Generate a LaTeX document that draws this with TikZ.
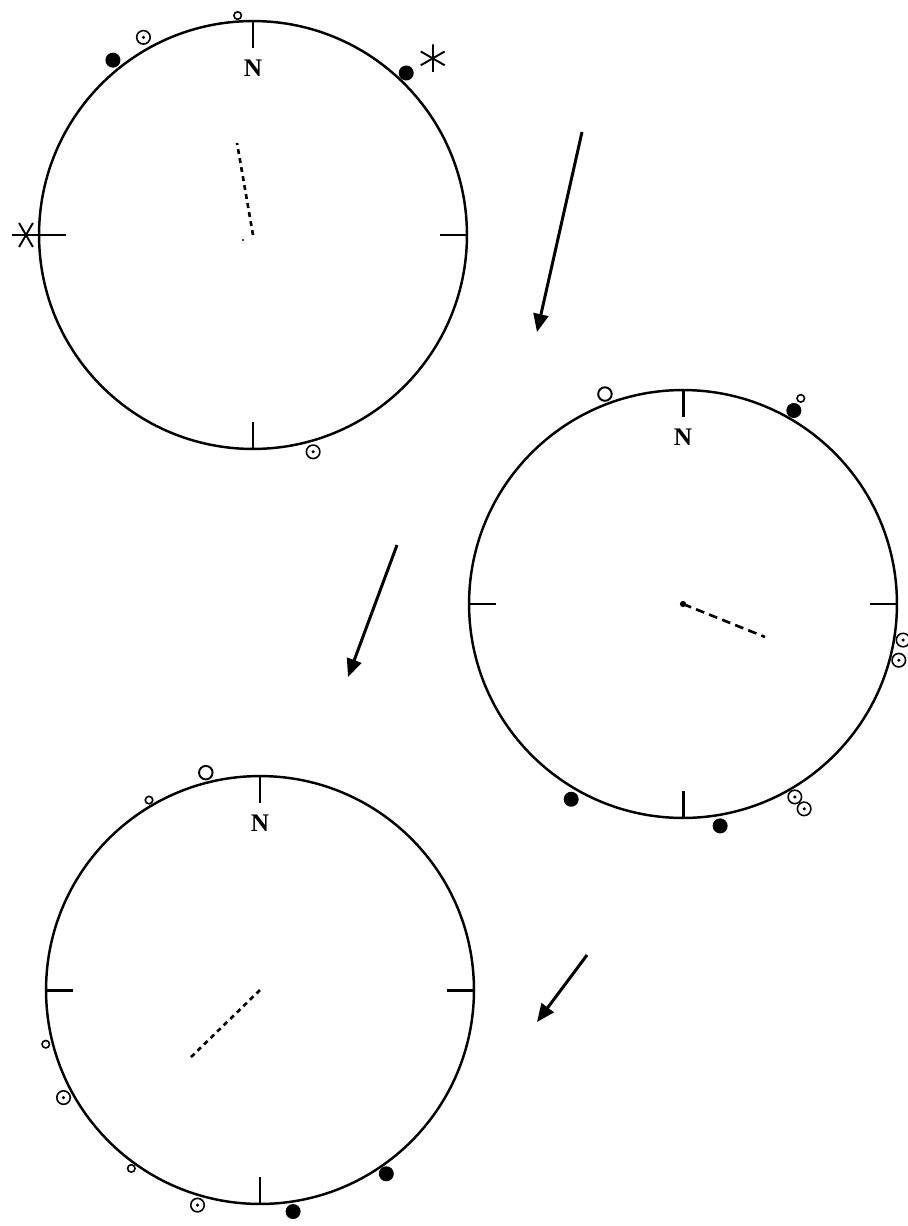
\documentclass[tikz,border=0pt]{standalone}
\usepackage{fontspec}
\setmainfont{Liberation Serif}
\usetikzlibrary{arrows.meta, calc}
\tikzset{
  net/.style={circle,draw,line width=1.4pt,minimum size=8.56cm,inner sep=0pt},
  tickmark/.style={line width=1.7pt},
  northlabel/.style={font=\bfseries\Large,inner sep=0pt},
  poleline/.style={line width=1.5pt,dash pattern=on 2.8pt off 2.4pt},
  fullmark/.style={circle,fill=black,minimum size=0.3cm,inner sep=0pt},
  openmark/.style={circle,draw,line width=1.1pt,minimum size=0.27cm,inner sep=0pt},
  tinymark/.style={circle,draw,line width=0.9pt,minimum size=0.15cm,inner sep=0pt},
  dotmark/.style={circle,draw,line width=0.9pt,minimum size=0.27cm,inner sep=0pt,
    path picture={\fill (path picture bounding box.center) circle (1pt);}},
  astmark/.style={circle,minimum size=0.56cm,inner sep=0pt,
    path picture={\foreach \t in {#1,#1+60,#1+120}
      \draw[line width=1.1pt] ($(path picture bounding box.center)+(\t:0.28cm)$)
        -- ($(path picture bounding box.center)+(\t+180:0.28cm)$);}},
  bigarrow/.style={line width=1.7pt,-{Triangle[length=0.36cm,width=0.3cm]}},
}

\begin{document}
\begin{tikzpicture}[x=0.02cm,y=0.02cm]
  \useasboundingbox (0,0) rectangle (907,-1226);
  % the three nets
  \node[net] (c1) at (253,-235) {};
  \node[net] (c2) at (683,-604) {};
  \node[net] (c3) at (260,-990) {};
  \foreach \c in {c1,c2,c3} {
    \draw[tickmark] (\c.north) -- ++(0,-28);
    \draw[tickmark] (\c.south) -- ++(0,28);
    \draw[tickmark] (\c.west) -- ++(28,0);
    \draw[tickmark] (\c.east) -- ++(-28,0);
    \node[northlabel] (\c n) at ($(\c.north)+(0,-48)$) {N};
  }
  % net 1
  \node[tinymark] (c1t1) at ($(c1)+(94:220)$) {};
  \node[dotmark] (c1d1) at ($(c1)+(119:226)$) {};
  \node[dotmark] (c1d2) at ($(c1)+(-74.5:225)$) {};
  \node[fullmark] (c1f1) at ($(c1)+(128.7:224)$) {};
  \node[fullmark] (c1f2) at ($(c1)+(46.6:223)$) {};
  \node[astmark=30] (c1a1) at ($(c1)+(44.5:252)$) {};
  \node[astmark=0] (c1a2) at (26,-235) {};
  \draw[tickmark] (c1.west) -- (c1a2.west);
  \coordinate (p1) at (237,-143);
  \draw[poleline] (c1.center) -- (p1);
  \fill (243,-240) circle (0.7pt);
  % net 2
  \node[openmark] (c2o1) at ($(c2)+(110.4:224)$) {};
  \node[fullmark] (c2f1) at ($(c2)+(60.2:223)$) {};
  \node[tinymark] (c2t1) at ($(c2)+(60.2:237)$) {};
  \node[fullmark] (c2f2) at ($(c2)+(-119.8:225)$) {};
  \node[fullmark] (c2f3) at ($(c2)+(-80.5:225)$) {};
  \node[dotmark] (c2d1) at ($(c2)+(-9.3:223)$) {};
  \node[dotmark] (c2d2) at ($(c2)+(-14.6:223)$) {};
  \node[dotmark] (c2d3) at ($(c2)+(-59.9:223)$) {};
  \node[dotmark] (c2d4) at ($(c2)+(-59.4:238)$) {};
  \coordinate (p2) at (765,-637);
  \fill (c2.center) circle (1.8pt);
  \draw[poleline,dash pattern=on 5pt off 3pt] (c2.center) -- (p2);
  % net 3
  \node[openmark] (c3o1) at ($(c3)+(104:224)$) {};
  \node[tinymark] (c3t1) at ($(c3)+(120.3:220)$) {};
  \node[tinymark] (c3t2) at ($(c3)+(194.2:221)$) {};
  \node[tinymark] (c3t3) at ($(c3)+(234.2:220)$) {};
  \node[dotmark] (c3d1) at ($(c3)+(208.7:224)$) {};
  \node[dotmark] (c3d2) at ($(c3)+(253.8:224)$) {};
  \node[fullmark] (c3f1) at ($(c3)+(278.5:224)$) {};
  \node[fullmark] (c3f2) at ($(c3)+(304.5:223)$) {};
  \coordinate (p3) at (188,-1060);
  \draw[poleline] (c3.center) -- (p3);
  % arrows
  \coordinate (a1s) at (582,-132);
  \coordinate (a1e) at (537,-332);
  \coordinate (a2s) at (397,-545);
  \coordinate (a2e) at (348,-677);
  \coordinate (a3s) at (587,-955);
  \coordinate (a3e) at (537,-1022);
  \draw[bigarrow] (a1s) -- (a1e);
  \draw[bigarrow] (a2s) -- (a2e);
  \draw[bigarrow] (a3s) -- (a3e);
\end{tikzpicture}
\end{document}
